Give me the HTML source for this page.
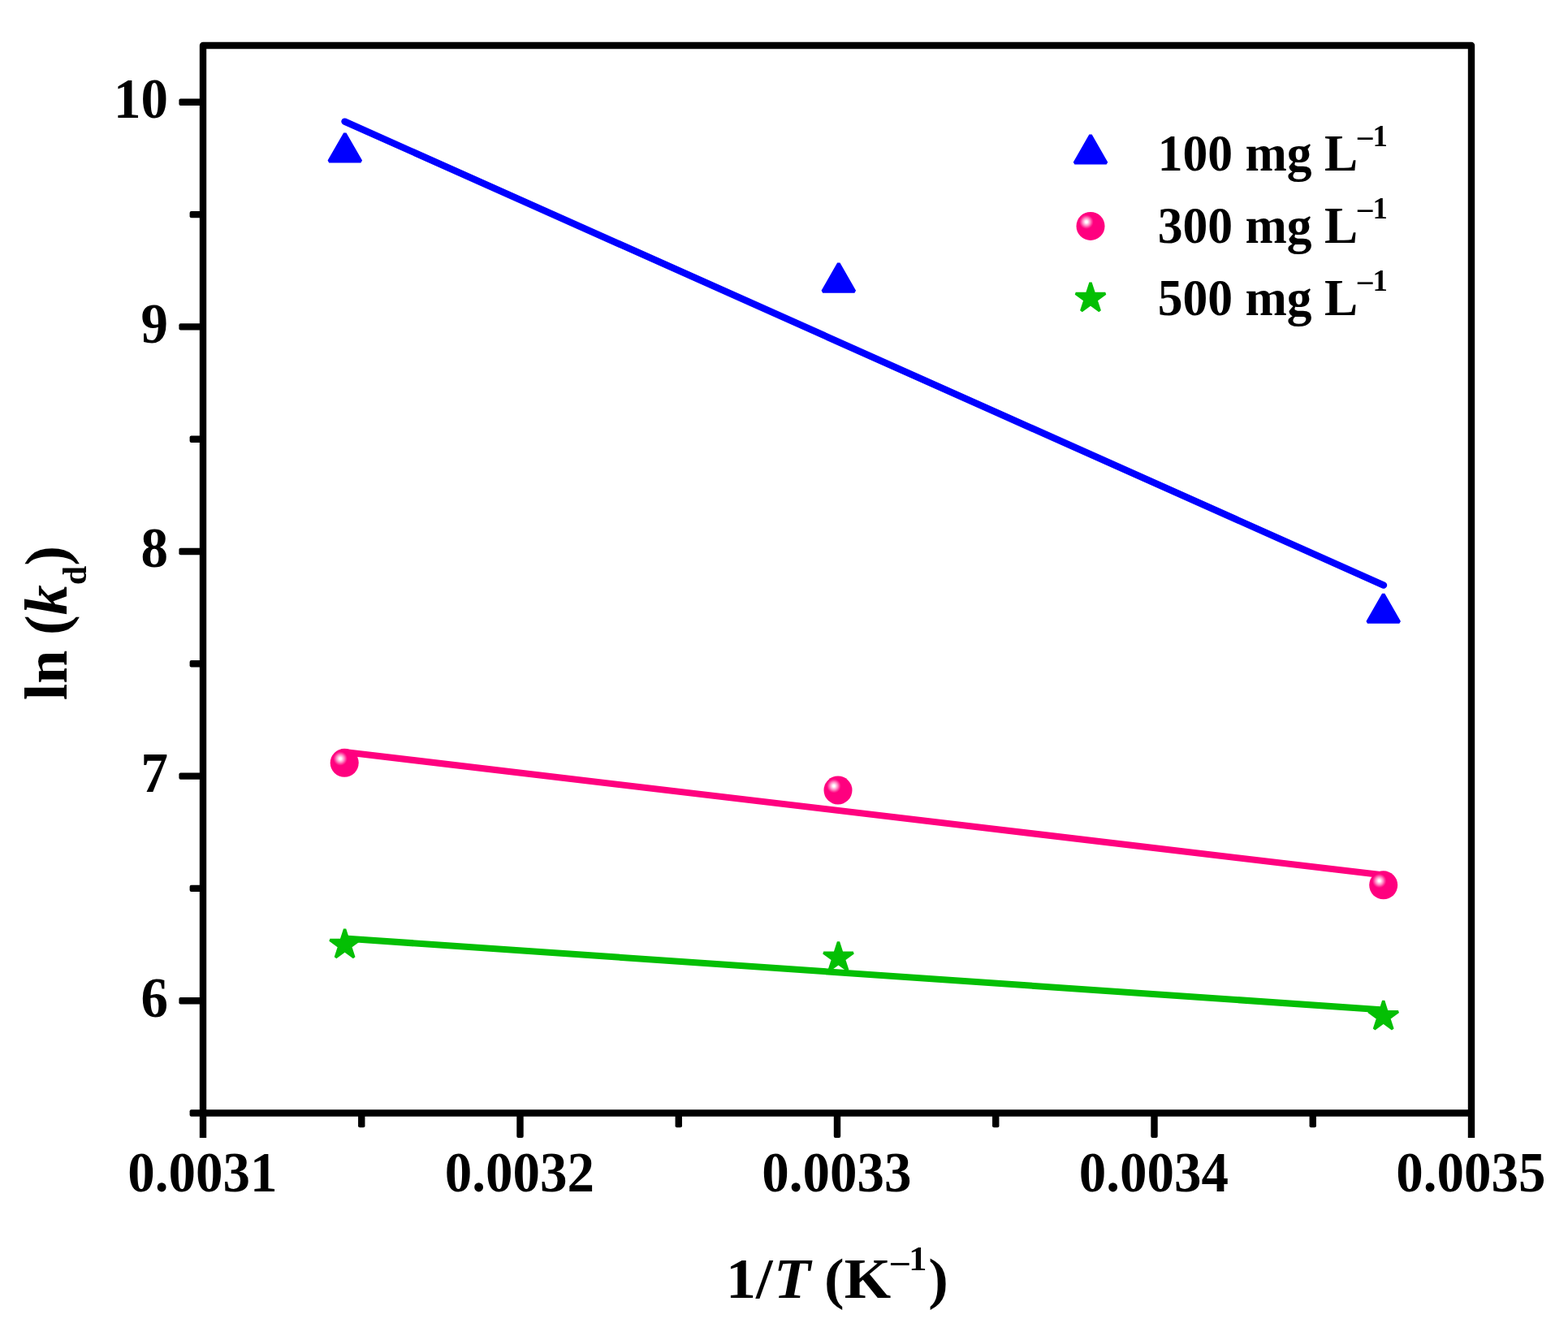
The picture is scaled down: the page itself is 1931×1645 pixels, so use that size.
<!DOCTYPE html>
<html lang="en"><head><meta charset="utf-8"><title>ln(kd) versus 1/T</title>
<style>
html,body{margin:0;padding:0;background:#fff;}
body{width:1931px;height:1645px;overflow:hidden;}
svg{display:block;}
text{font-family:"Liberation Serif",serif;font-weight:bold;fill:#000;}
.it{font-style:italic;}
</style></head><body>
<svg width="1931" height="1645" viewBox="0 0 1931 1645" role="img" aria-label="Plot of ln(kd) against 1/T for 100, 300 and 500 mg/L">
<rect x="0" y="0" width="1931" height="1645" fill="#fff"/>
<defs>
<radialGradient id="ball" gradientUnits="objectBoundingBox" cx="0.355" cy="0.35" r="0.5" fx="0.355" fy="0.35">
<stop offset="0" stop-color="#ffffff"/><stop offset="0.07" stop-color="#ffffff"/><stop offset="0.15" stop-color="#ffd2e9"/><stop offset="0.28" stop-color="#ff86c2"/><stop offset="0.41" stop-color="#ff2e96"/><stop offset="0.50" stop-color="#ff007f"/><stop offset="1" stop-color="#ff007f"/>
</radialGradient>
</defs>
<g fill="none" stroke-linecap="round">
<line x1="424.5" y1="149.6" x2="1704" y2="720.6" stroke="#0000ff" stroke-width="8.4"/>
<line x1="424.5" y1="926" x2="1704" y2="1077.5" stroke="#ff007f" stroke-width="8"/>
<line x1="424.5" y1="1155.5" x2="1704" y2="1243.5" stroke="#04bf04" stroke-width="8"/>
</g>
<g>
<polygon points="424.8,164.35 444.4,198.55 405.2,198.55" fill="#0000ff" stroke="#0000ff" stroke-width="3.8" stroke-linejoin="bevel"/>
<polygon points="1032.8,324.55 1052.4,358.75 1013.2,358.75" fill="#0000ff" stroke="#0000ff" stroke-width="3.8" stroke-linejoin="bevel"/>
<polygon points="1703.7,731.7 1723.3,765.9 1684.1,765.9" fill="#0000ff" stroke="#0000ff" stroke-width="3.8" stroke-linejoin="bevel"/>
<circle cx="424.2" cy="939.3" r="17.5" fill="url(#ball)"/>
<circle cx="1032" cy="973" r="17.5" fill="url(#ball)"/>
<circle cx="1703.7" cy="1089.8" r="17.5" fill="url(#ball)"/>
<polygon points="424.6,1144.1 428.91,1157.37 442.86,1157.37 431.58,1165.57 435.89,1178.83 424.6,1170.63 413.31,1178.83 417.62,1165.57 406.34,1157.37 420.29,1157.37" fill="#04bf04" stroke="#04bf04" stroke-width="3.4" stroke-linejoin="bevel"/>
<polygon points="1032.5,1159.9 1036.81,1173.17 1050.76,1173.17 1039.48,1181.37 1043.79,1194.63 1032.5,1186.43 1021.21,1194.63 1025.52,1181.37 1014.24,1173.17 1028.19,1173.17" fill="#04bf04" stroke="#04bf04" stroke-width="3.4" stroke-linejoin="bevel"/>
<polygon points="1703.7,1232.4 1708.01,1245.67 1721.96,1245.67 1710.68,1253.87 1714.99,1267.13 1703.7,1258.93 1692.41,1267.13 1696.72,1253.87 1685.44,1245.67 1699.39,1245.67" fill="#04bf04" stroke="#04bf04" stroke-width="3.4" stroke-linejoin="bevel"/>
</g>
<g fill="#000">
<path d="M250,1401 V56 H1812 V1401" fill="none" stroke="#000" stroke-width="8.4" stroke-linejoin="round"/>
<rect x="233.6" y="1366.3" width="1578.4" height="8.4" rx="2"/>
<rect x="220.4" y="1228" width="29.6" height="8.4" rx="2"/>
<rect x="220.4" y="951.4" width="29.6" height="8.4" rx="2"/>
<rect x="220.4" y="674.8" width="29.6" height="8.4" rx="2"/>
<rect x="220.4" y="398.2" width="29.6" height="8.4" rx="2"/>
<rect x="220.4" y="121.6" width="29.6" height="8.4" rx="2"/>
<rect x="233.6" y="1089.7" width="16.4" height="8.4" rx="2"/>
<rect x="233.6" y="813.1" width="16.4" height="8.4" rx="2"/>
<rect x="233.6" y="536.5" width="16.4" height="8.4" rx="2"/>
<rect x="233.6" y="259.9" width="16.4" height="8.4" rx="2"/>
<rect x="636.3" y="1370.5" width="8.4" height="30.5" rx="2"/>
<rect x="1026.8" y="1370.5" width="8.4" height="30.5" rx="2"/>
<rect x="1417.3" y="1370.5" width="8.4" height="30.5" rx="2"/>
<rect x="441.05" y="1370.5" width="8.4" height="17.7" rx="2"/>
<rect x="831.55" y="1370.5" width="8.4" height="17.7" rx="2"/>
<rect x="1222.05" y="1370.5" width="8.4" height="17.7" rx="2"/>
<rect x="1612.55" y="1370.5" width="8.4" height="17.7" rx="2"/>
</g>
<text transform="translate(207,145.2) scale(0.985,1.03)" font-size="68" text-anchor="end">10</text>
<text transform="translate(207,421.8) scale(0.985,1.03)" font-size="68" text-anchor="end">9</text>
<text transform="translate(207,698.4) scale(0.985,1.03)" font-size="68" text-anchor="end">8</text>
<text transform="translate(207,975) scale(0.985,1.03)" font-size="68" text-anchor="end">7</text>
<text transform="translate(207,1251.6) scale(0.985,1.03)" font-size="68" text-anchor="end">6</text>
<text transform="translate(249.3,1467.2) scale(0.985,1.03)" font-size="68" text-anchor="middle">0.0031</text>
<text transform="translate(639.8,1467.2) scale(0.985,1.03)" font-size="68" text-anchor="middle">0.0032</text>
<text transform="translate(1030.3,1467.2) scale(0.985,1.03)" font-size="68" text-anchor="middle">0.0033</text>
<text transform="translate(1420.8,1467.2) scale(0.985,1.03)" font-size="68" text-anchor="middle">0.0034</text>
<text transform="translate(1811.3,1467.2) scale(0.985,1.03)" font-size="68" text-anchor="middle">0.0035</text>
<text transform="translate(894,1597.9) scale(1.071,1)" font-size="69">1/<tspan class="it" dx="1.4">T</tspan><tspan dx="-1.4"> (K</tspan><tspan font-size="41.4" dy="-32.2">–</tspan><tspan font-size="41.4" dy="-1.4">1</tspan><tspan dy="33.6" dx="1.6">)</tspan></text>
<text transform="translate(81.6,862.2) rotate(-90)" font-size="74">ln (<tspan class="it">k</tspan><tspan font-size="42.2" dy="24">d</tspan><tspan dy="-24">)</tspan></text>
<polygon points="1343,166.4 1362.6,200.6 1323.4,200.6" fill="#0000ff" stroke="#0000ff" stroke-width="3.8" stroke-linejoin="bevel"/>
<circle cx="1343" cy="278.45" r="17.5" fill="url(#ball)"/>
<polygon points="1343,348.1 1347.31,361.37 1361.26,361.37 1349.98,369.57 1354.29,382.83 1343,374.63 1331.71,382.83 1336.02,369.57 1324.74,361.37 1338.69,361.37" fill="#04bf04" stroke="#04bf04" stroke-width="3.4" stroke-linejoin="bevel"/>
<text transform="translate(1425.7,209.6) scale(1,1.02)" font-size="61.6">100 mg L<tspan font-size="36.8" dy="-28.6">–1</tspan></text>
<text transform="translate(1425.7,298.5) scale(1,1.02)" font-size="61.6">300 mg L<tspan font-size="36.8" dy="-28.6">–1</tspan></text>
<text transform="translate(1425.7,387.6) scale(1,1.02)" font-size="61.6">500 mg L<tspan font-size="36.8" dy="-28.6">–1</tspan></text>
</svg>
</body></html>
